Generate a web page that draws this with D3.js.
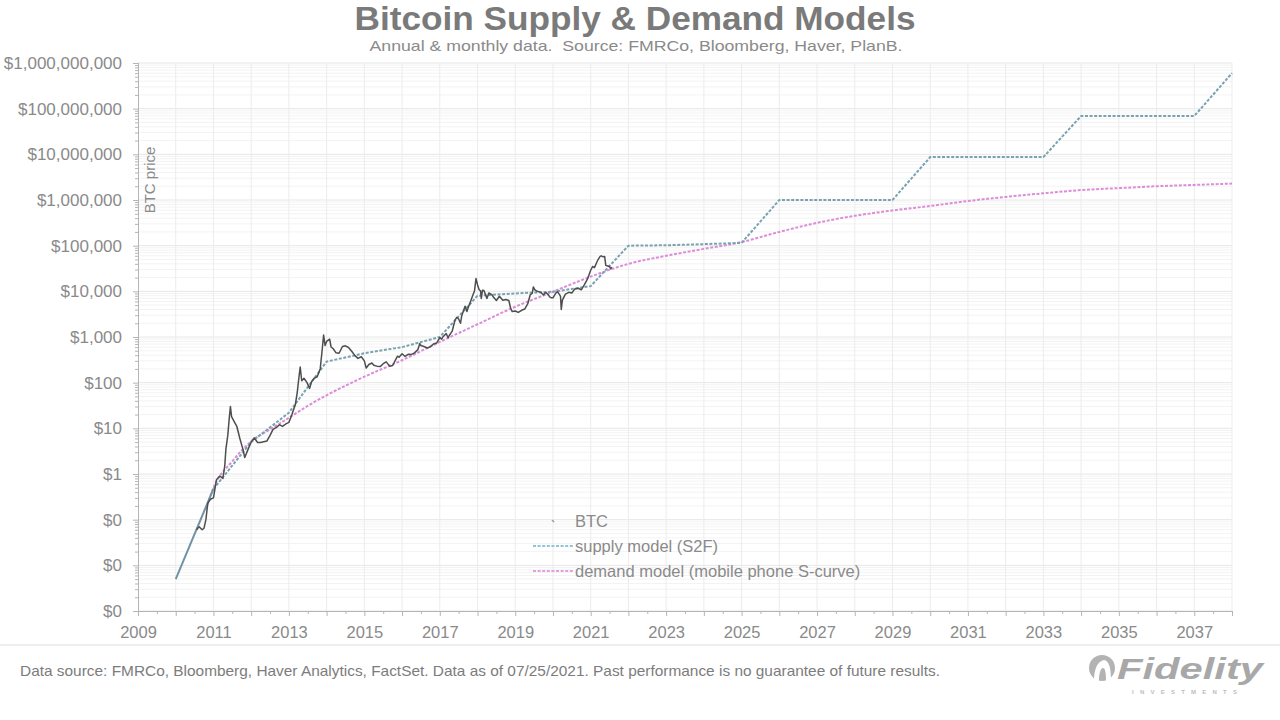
<!DOCTYPE html>
<html>
<head>
<meta charset="utf-8">
<script src="https://cdn.jsdelivr.net/npm/d3@7"></script>
<style>
  html, body { margin: 0; padding: 0; background: #fff; }
  svg { display: block; font-family: "Liberation Sans", Arial, sans-serif; }
</style>
</head>
<body>
<svg id="chart" width="1280" height="720"></svg>
<script>
// ---------------- DATA ----------------
const yTickValues = [0.001, 0.01, 0.1, 1, 10, 100, 1000, 10000, 100000, 1000000, 10000000, 100000000, 1000000000];
const yTickLabels = ["$0", "$0", "$0", "$1", "$10", "$100", "$1,000", "$10,000", "$100,000", "$1,000,000", "$10,000,000", "$100,000,000", "$1,000,000,000"];
const xTickYears = [2009, 2010, 2011, 2012, 2013, 2014, 2015, 2016, 2017, 2018, 2019, 2020, 2021, 2022, 2023,
                    2024, 2025, 2026, 2027, 2028, 2029, 2030, 2031, 2032, 2033, 2034, 2035, 2036, 2037, 2038];
const xTickLabels = ["2009", "", "2011", "", "2013", "", "2015", "", "2017", "", "2019", "", "2021", "", "2023",
                     "", "2025", "", "2027", "", "2029", "", "2031", "", "2033", "", "2035", "", "2037", ""];

// BTC price (decimal year, USD)
const btcDates = [2010.55, 2010.62, 2010.70, 2010.75, 2010.80, 2010.85, 2010.92, 2011.00, 2011.08, 2011.17, 2011.25, 2011.30,
  2011.33, 2011.38, 2011.42, 2011.45, 2011.48, 2011.55, 2011.62, 2011.70, 2011.78, 2011.83, 2011.92, 2012.00, 2012.08,
  2012.17, 2012.25, 2012.33, 2012.42, 2012.50, 2012.58, 2012.67, 2012.75, 2012.83, 2012.92, 2013.00, 2013.08, 2013.17,
  2013.22, 2013.27, 2013.30, 2013.34, 2013.40, 2013.48, 2013.55, 2013.60, 2013.67, 2013.75, 2013.83, 2013.88, 2013.92,
  2013.96, 2014.00, 2014.08, 2014.12, 2014.17, 2014.25, 2014.33, 2014.42, 2014.50, 2014.58, 2014.67, 2014.75, 2014.83,
  2014.92, 2015.00, 2015.05, 2015.12, 2015.20, 2015.25, 2015.33, 2015.42, 2015.50, 2015.58, 2015.67, 2015.75, 2015.83,
  2015.88, 2015.92, 2016.00, 2016.08, 2016.17, 2016.25, 2016.33, 2016.42, 2016.47, 2016.50, 2016.58, 2016.67, 2016.75,
  2016.83, 2016.92, 2017.00, 2017.05, 2017.08, 2017.17, 2017.22, 2017.25, 2017.33, 2017.40, 2017.45, 2017.50, 2017.55,
  2017.58, 2017.67, 2017.72, 2017.75, 2017.83, 2017.87, 2017.92, 2017.96, 2018.00, 2018.04, 2018.08, 2018.10, 2018.13,
  2018.17, 2018.25, 2018.30, 2018.38, 2018.42, 2018.50, 2018.58, 2018.67, 2018.75, 2018.83, 2018.88, 2018.92, 2019.00,
  2019.08, 2019.17, 2019.25, 2019.33, 2019.40, 2019.45, 2019.48, 2019.52, 2019.58, 2019.67, 2019.75, 2019.80, 2019.83,
  2019.92, 2019.96, 2020.00, 2020.08, 2020.12, 2020.17, 2020.20, 2020.22, 2020.25, 2020.33, 2020.42, 2020.50, 2020.58,
  2020.67, 2020.75, 2020.83, 2020.92, 2021.00, 2021.05, 2021.10, 2021.17, 2021.20, 2021.25, 2021.28, 2021.33, 2021.37,
  2021.40, 2021.45, 2021.50, 2021.53, 2021.56];
const btcPrices = [0.06, 0.07, 0.06, 0.065, 0.1, 0.23, 0.28, 0.3, 0.75, 0.9, 0.8, 1.5,
  3.5, 7, 17, 30, 18, 14, 11, 6, 3.5, 2.3, 3.5, 5, 6.2,
  4.9, 4.9, 5.1, 5.3, 7, 9.5, 10.5, 12, 11, 12.5, 13.5, 20, 33,
  60, 140, 220, 110, 125, 100, 75, 105, 125, 135, 200, 500, 1100,
  650, 800, 900, 600, 560, 450, 440, 620, 640, 590, 480, 390, 340,
  370, 300, 210, 250, 270, 240, 230, 225, 260, 285, 230, 238, 320,
  380, 360, 430, 375, 420, 415, 450, 530, 720, 650, 620, 575, 610,
  700, 740, 970, 900, 1000, 1190, 960, 1080, 1350, 2300, 2700, 2480, 2000,
  2875, 4700, 3600, 4340, 6470, 8000, 10200, 19000, 14000, 11000, 10200, 7000, 10500,
  10400, 7000, 9200, 8500, 7500, 6300, 7800, 6400, 6600, 6300, 4200, 3600, 3700,
  3450, 3850, 4100, 5300, 8500, 9000, 12500, 10800, 10000, 9600, 8300, 9400, 9200,
  7500, 7200, 7200, 9300, 9800, 8600, 7800, 4000, 6400, 8700, 9500, 9200, 11300,
  11700, 10800, 13800, 19000, 29000, 35000, 33000, 45000, 50000, 58000, 60000, 57000, 58000,
  37000, 36000, 35000, 31000, 34000];

// Supply model (S2F), annual
const supplyYears = [2010, 2011, 2012, 2013, 2014, 2015, 2016, 2017, 2018, 2019, 2020, 2021, 2022, 2023, 2024,
                     2025, 2026, 2027, 2028, 2029, 2030, 2031, 2032, 2033, 2034, 2035, 2036, 2037, 2038];
const supplyValues = [0.005, 0.47, 5, 22, 290, 440, 600, 1000, 8000, 9000, 9800, 13000, 100000, 102000, 108000,
                      115000, 1000000, 1000000, 1000000, 1000000, 8700000, 8700000, 8700000, 8700000,
                      69000000, 69000000, 69000000, 69000000, 600000000];

// Demand model (mobile phone S-curve)
const demandYears = [2010.8, 2011, 2011.5, 2012, 2012.5, 2013, 2013.5, 2014, 2014.5, 2015, 2016, 2017, 2018, 2019,
                     2020, 2021, 2022, 2023, 2024, 2025, 2026, 2027, 2028, 2029, 2030, 2031, 2032, 2033, 2034,
                     2035, 2036, 2037, 2038];
const demandValues = [0.17, 0.5, 1.9, 5.2, 9.5, 17, 31, 53, 86, 135, 310, 780, 1900, 4600,
                      9800, 21000, 40000, 60000, 85000, 120000, 200000, 316000, 450000, 590000, 740000, 950000,
                      1170000, 1400000, 1650000, 1820000, 2000000, 2140000, 2290000];

const legendLabels = ["BTC", "supply model (S2F)", "demand model (mobile phone S-curve)"];

// ---------------- LAYOUT ----------------
const svg = d3.select("#chart");
const L = 138, R = 1232, T = 63, B = 611;
const x = d3.scaleLinear().domain([2009, 2038]).range([L, R]);
const y = d3.scaleLog().domain([0.001, 1e9]).range([B, T]);

const textCol = "#8a8a8a";
const supplyCol = "#78a2b0";
const demandCol = "#dc8cd8";
const btcCol = "#4e4e4e";

// Gridlines
const grid = svg.append("g");
const minorY = [];
for (let e = -3; e < 9; e++) for (let m = 2; m <= 9; m++) minorY.push(m * Math.pow(10, e));
grid.selectAll(".gmy").data(minorY).join("line")
  .attr("x1", L).attr("x2", R).attr("y1", d => y(d)).attr("y2", d => y(d))
  .attr("stroke", "#f3f3f3").attr("stroke-width", 1);
grid.selectAll(".gy").data(yTickValues).join("line")
  .attr("x1", L).attr("x2", R).attr("y1", d => y(d)).attr("y2", d => y(d))
  .attr("stroke", "#e6e6e6").attr("stroke-width", 1);
grid.selectAll(".gx").data(xTickYears.slice(1)).join("line")
  .attr("x1", d => x(d)).attr("x2", d => x(d)).attr("y1", T).attr("y2", B)
  .attr("stroke", "#ececec").attr("stroke-width", 1);

// Axes
const yAxis = svg.append("g").attr("transform", `translate(${L},0)`)
  .call(d3.axisLeft(y).tickValues(yTickValues).tickFormat((d, i) => yTickLabels[i]).tickSize(5).tickPadding(11));
const yMinor = svg.append("g").attr("transform", `translate(${L},0)`)
  .call(d3.axisLeft(y).tickValues(minorY).tickFormat("").tickSize(3));
const xAxis = svg.append("g").attr("transform", `translate(0,${B})`)
  .call(d3.axisBottom(x).tickValues(xTickYears).tickFormat((d, i) => xTickLabels[i]).tickSize(5).tickPadding(10));
const xMinor = svg.append("g").attr("transform", `translate(0,${B})`)
  .call(d3.axisBottom(x).tickValues(xTickYears.slice(0, -1).map(d => d + 0.5)).tickFormat("").tickSize(3));
[yAxis, yMinor, xAxis, xMinor].forEach(g => {
  g.select(".domain").attr("stroke", "#b5b5b5");
  g.selectAll(".tick line").attr("stroke", "#b5b5b5");
});
yAxis.selectAll("text").attr("fill", textCol).style("font-size", "17px");
xAxis.selectAll("text").attr("fill", textCol).style("font-size", "16.5px");

// BTC price label
svg.append("text").attr("transform", "translate(155,180) rotate(-90)")
  .attr("text-anchor", "middle").attr("fill", textCol).style("font-size", "15px").text("BTC price");

// Series
const lineGen = d3.line().x(d => x(d[0])).y(d => y(d[1]));
const curveGen = d3.line().x(d => x(d[0])).y(d => y(d[1])).curve(d3.curveMonotoneX);

svg.append("path").datum(demandYears.map((d, i) => [d, demandValues[i]]))
  .attr("d", curveGen).attr("fill", "none").attr("stroke", demandCol)
  .attr("stroke-width", 2).attr("stroke-dasharray", "3,1.6");

const sup = supplyYears.map((d, i) => [d, supplyValues[i]]);
svg.append("path").datum(sup.slice(0, 2))
  .attr("d", lineGen).attr("fill", "none").attr("stroke", "#6f93a4").attr("stroke-width", 2);
svg.append("path").datum(sup.slice(1))
  .attr("d", lineGen).attr("fill", "none").attr("stroke", supplyCol)
  .attr("stroke-width", 2).attr("stroke-dasharray", "3,1.6");

svg.append("path").datum(btcDates.map((d, i) => [d, btcPrices[i]]))
  .attr("d", lineGen).attr("fill", "none").attr("stroke", btcCol)
  .attr("stroke-width", 1.5).attr("stroke-linejoin", "round");

// Legend
const lg = svg.append("g");
const lgY = [521, 546, 571];
lg.append("line").attr("x1", 552).attr("x2", 554).attr("y1", lgY[0] - 1).attr("y2", lgY[0] + 1)
  .attr("stroke", "#999").attr("stroke-width", 1.5);
lg.append("line").attr("x1", 533).attr("x2", 573).attr("y1", lgY[1]).attr("y2", lgY[1])
  .attr("stroke", "#8ec5d8").attr("stroke-width", 2).attr("stroke-dasharray", "3,1.6");
lg.append("line").attr("x1", 533).attr("x2", 573).attr("y1", lgY[2]).attr("y2", lgY[2])
  .attr("stroke", "#e3a0e0").attr("stroke-width", 2).attr("stroke-dasharray", "3,1.6");
lg.selectAll(".lt").data(legendLabels).join("text")
  .attr("x", 575).attr("y", (d, i) => lgY[i]).attr("dy", "0.35em")
  .attr("fill", textCol).style("font-size", "16.5px").text(d => d);

// Titles
svg.append("text").attr("x", 635).attr("y", 30).attr("text-anchor", "middle")
  .attr("fill", "#7a7a7a").style("font-size", "34px").style("font-weight", "bold")
  .attr("textLength", 561).attr("lengthAdjust", "spacingAndGlyphs")
  .text("Bitcoin Supply & Demand Models");
svg.append("text").attr("x", 636).attr("y", 51).attr("text-anchor", "middle")
  .attr("fill", textCol).style("font-size", "15px").style("white-space", "pre")
  .attr("textLength", 533).attr("lengthAdjust", "spacingAndGlyphs")
  .text("Annual & monthly data.  Source: FMRCo, Bloomberg, Haver, PlanB.");

// Footer
svg.append("line").attr("x1", 0).attr("x2", 1280).attr("y1", 645).attr("y2", 645)
  .attr("stroke", "#e8e8e8").attr("stroke-width", 1.5);
svg.append("text").attr("x", 20).attr("y", 676)
  .attr("fill", "#7c7c7c").style("font-size", "15px")
  .attr("textLength", 920).attr("lengthAdjust", "spacingAndGlyphs")
  .text("Data source: FMRCo, Bloomberg, Haver Analytics, FactSet. Data as of 07/25/2021. Past performance is no guarantee of future results.");

// Fidelity logo
const logo = svg.append("g");
logo.append("circle").attr("cx", 1102).attr("cy", 668).attr("r", 13).attr("fill", "#b3b3b3");
logo.append("path").attr("d", "M1094,681 C1094,668 1098,661 1104,660 C1109,661 1111,667 1111,681 L1106,681 C1106,672 1105,668 1103,668 C1101,668 1099,672 1099,681 Z")
  .attr("fill", "#fff");
logo.append("text").attr("x", 1117).attr("y", 679).attr("fill", "#a8a8a8")
  .style("font-size", "30px").style("font-weight", "bold").style("font-style", "italic")
  .attr("textLength", 146).attr("lengthAdjust", "spacingAndGlyphs").text("Fidelity");
logo.append("text").attr("x", 1132).attr("y", 694).attr("fill", "#bdbdbd")
  .style("font-size", "6px").style("font-weight", "bold")
  .attr("textLength", 105).attr("lengthAdjust", "spacing").text("INVESTMENTS");
</script>
</body>
</html>
